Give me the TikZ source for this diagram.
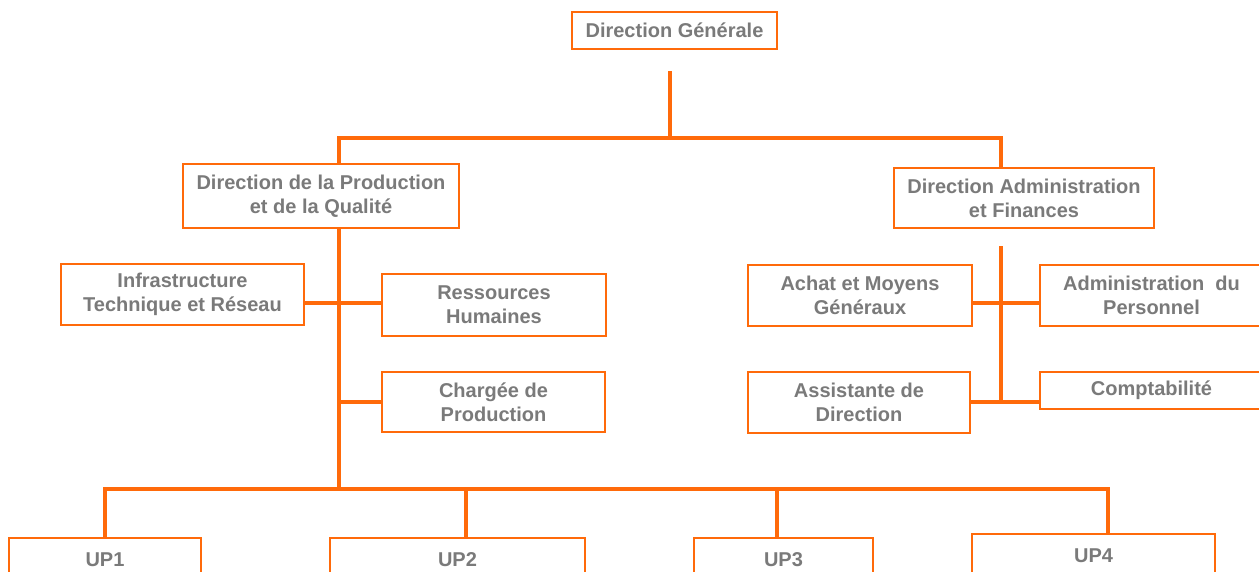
\documentclass[tikz,border=0pt]{standalone}
\usepackage{fontspec}
\setmainfont{Liberation Sans}
\definecolor{orgline}{HTML}{FF6A0A}
\definecolor{labelgray}{HTML}{7A7A7A}
\begin{document}
\begin{tikzpicture}[x=0.75pt,y=-0.75pt,
  unit/.style 2 args={draw=orgline,line width=1.5pt,fill=white,
    minimum width=#1*0.75pt,minimum height=#2*0.75pt,inner sep=0pt,
    align=center,text=labelgray,
    font=\bfseries\fontsize{15}{18}\selectfont},
  link/.style={draw=orgline,line width=2.3pt}]
\useasboundingbox (0,0) rectangle (1259,571);

% boxes (centre, width, height in px)
\node[unit={205}{37}] (dg) at (674.5,30.5) {Direction Générale};
\node[unit={276}{64}] (dpq) at (321,196) {Direction de la Production\\et de la Qualité};
\node[unit={260}{60}] (daf) at (1024,198) {Direction Administration\\et Finances};

\node[unit={243}{61}] (infra) at (182.5,294.5) {Infrastructure\\Technique et Réseau};
\node[unit={224}{62}] (rh) at (494,305) {Ressources\\Humaines};
\node[unit={223}{60}] (charg) at (493.5,402) {Chargée de\\Production};

\node[unit={224}{61}] (achat) at (860,295.5) {Achat et Moyens\\Généraux};
\node[unit={223}{61}] (admin) at (1151.5,295.5) {Administration\ \ du\\Personnel};
\node[unit={222}{61}] (assist) at (859,402.5) {Assistante de\\Direction};
\node[unit={223}{37}] (compta) at (1151.5,390.5) {Comptabilité};

\node[unit={192}{60}] (up1) at (105,568) {\raisebox{12pt}{UP1}};
\node[unit={255}{60}] (up2) at (457.5,568) {\raisebox{12pt}{UP2}};
\node[unit={179}{60}] (up3) at (783.5,568) {\raisebox{12pt}{UP3}};
\node[unit={243}{60}] (up4) at (1093.5,564) {\raisebox{12pt}{UP4}};

% junction points
\coordinate (dgstem) at (670,71);
\coordinate (dgbus) at (670,138);
\coordinate (tl) at (339,138);
\coordinate (tr) at (1001,138);
\coordinate (pj1) at (339,303);
\coordinate (pj2) at (339,402);
\coordinate (pbus) at (339,489);
\coordinate (u1) at (105,489);
\coordinate (u2) at (466,489);
\coordinate (u3) at (777,489);
\coordinate (u4) at (1108,489);
\coordinate (a0) at (1001,246);
\coordinate (a1) at (1001,303);
\coordinate (a2) at (1001,402);

% top level
\draw[link] (dgstem) -- (dgbus);
\draw[link] (tl |- dpq.north) -- (tl) -- (tr) -- (tr |- daf.north);

% production branch
\draw[link] (tl |- dpq.south) -- (pbus);
\draw[link] (pj1 -| infra.east) -- (pj1 -| rh.west);
\draw[link] (pj2) -- (pj2 -| charg.west);
\draw[link] (u1 |- up1.north) -- (u1) -- (u4) -- (u4 |- up4.north);
\draw[link] (u2) -- (u2 |- up2.north);
\draw[link] (u3) -- (u3 |- up3.north);

% administration branch
\draw[link] (a0) -- (a2);
\draw[link] (a1 -| achat.east) -- (a1 -| admin.west);
\draw[link] (a2 -| assist.east) -- (a2 -| compta.west);
\end{tikzpicture}
\end{document}
